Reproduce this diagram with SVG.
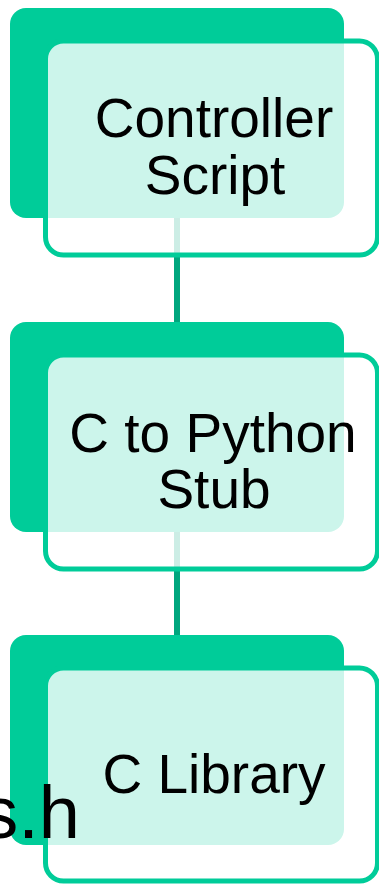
<svg xmlns="http://www.w3.org/2000/svg" width="379" height="884" viewBox="0 0 379 884">
  <defs>
    <style>
      .back { fill: #00CC99; }
      .front { fill: #ffffff; fill-opacity: 0.8; stroke: #00CC99; stroke-width: 5; stroke-opacity: 1; }
      .conn { fill: #00A67E; }
      .label { font-family: "Liberation Sans", Arial, sans-serif; font-size: 55px; fill: #000000; text-anchor: middle; }
    </style>
  </defs>
  <rect width="379" height="884" fill="#ffffff"/>
  <g id="connectors">
    <rect class="conn" x="174" y="216" width="6" height="108"/>
    <rect class="conn" x="174" y="530" width="6" height="108"/>
  </g>
  <g id="node-controller">
    <rect class="back" x="10" y="8" width="334" height="210" rx="16"/>
    <rect class="front" x="45.5" y="41" width="332" height="214" rx="18"/>
    <text class="label" x="214" y="137">Controller</text>
    <text class="label" x="215" y="194">Script</text>
  </g>
  <g id="node-stub">
    <rect class="back" x="10" y="322" width="334" height="210" rx="16"/>
    <rect class="front" x="45.5" y="355" width="332" height="214" rx="18"/>
    <text class="label" x="213" y="452">C to Python</text>
    <text class="label" x="214" y="508">Stub</text>
  </g>
  <g id="node-library">
    <rect class="back" x="10" y="635" width="334" height="210" rx="16"/>
    <rect class="front" x="45.5" y="668" width="332" height="213" rx="18"/>
    <text class="label" x="214" y="793">C Library</text>
  </g>
  <text x="80" y="838" font-family="&quot;Liberation Sans&quot;, Arial, sans-serif" font-size="74" fill="#000000" text-anchor="end">s.h</text>
</svg>
